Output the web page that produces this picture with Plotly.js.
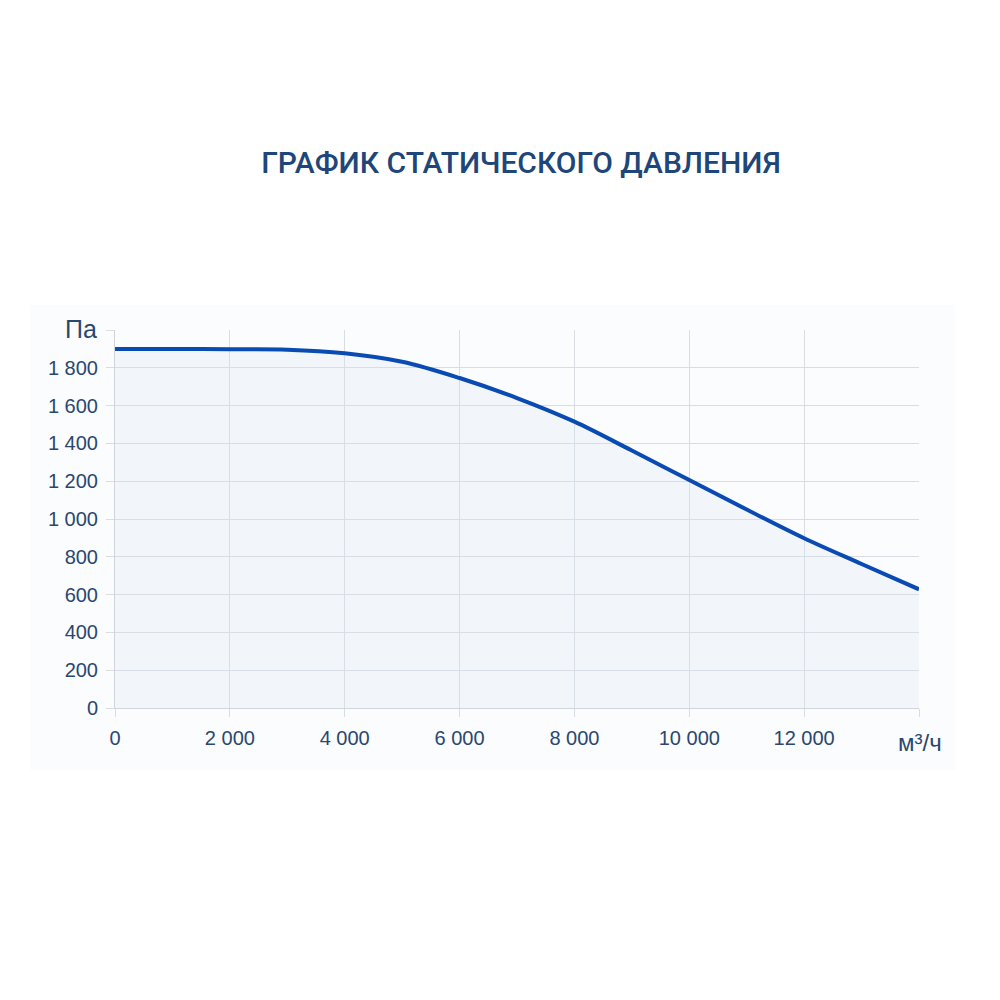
<!DOCTYPE html>
<html>
<head>
<meta charset="utf-8">
<script src="https://cdn.plot.ly/plotly-3.0.1.min.js"></script>
<style>
  html, body { margin: 0; padding: 0; background: #ffffff; }
  #chart { width: 1000px; height: 1000px; }
</style>
</head>
<body>
<div id="chart"></div>
<script>
// Data
var flow = [0, 1000, 2000, 3000, 4000, 5000, 6000, 7000, 8000, 9000, 10000, 11000, 12000, 13000, 14000];
var pressure = [1900, 1900, 1898, 1896, 1877, 1832, 1746, 1640, 1515, 1362, 1206, 1050, 898, 762, 628];

var y_ticks = [0, 200, 400, 600, 800, 1000, 1200, 1400, 1600, 1800, 2000];
var y_labels = ['0', '200', '400', '600', '800', '1 000', '1 200', '1 400', '1 600', '1 800', ''];
var x_ticks = [0, 2000, 4000, 6000, 8000, 10000, 12000, 14000];
var x_labels = ['0', '2 000', '4 000', '6 000', '8 000', '10 000', '12 000', ''];

var title_text = 'ГРАФИК СТАТИЧЕСКОГО ДАВЛЕНИЯ';
var y_unit = 'Па';
var x_unit = 'м³/ч';

// Colors
var line_blue = '#0a4ab3';
var text_navy = '#2a4770';
var grid_grey = '#d9dce2';

var trace1 = {
  x: flow,
  y: pressure,
  type: 'scatter',
  mode: 'lines',
  line: {color: line_blue, width: 4, shape: 'spline', smoothing: 1},
  fill: 'tozeroy',
  fillcolor: 'rgba(214, 226, 242, 0.25)',
  hoverinfo: 'x+y',
};

var layout = {
  width: 1000,
  height: 1000,
  margin: {l: 115, r: 81, t: 330, b: 292},
  paper_bgcolor: '#ffffff',
  plot_bgcolor: '#fdfeff',
  showlegend: false,
  font: {family: 'Liberation Sans, Arial, sans-serif', color: text_navy, size: 21},

  title: {
    text: title_text,
    font: {family: 'Roboto, sans-serif', size: 30, color: '#1e4679', weight: 500},
    x: 0.505,
    xanchor: 'center',
    xref: 'paper',
    y: 0.838,
    yanchor: 'middle',
  },

  shapes: [{
    type: 'rect',
    xref: 'paper', yref: 'paper',
    x0: -0.106, x1: 1.045, y0: -0.164, y1: 1.066,
    fillcolor: '#fbfcfd',
    line: {width: 0},
    layer: 'below',
  }],

  annotations: [
    {
      text: y_unit, xref: 'paper', yref: 'y', x: 0, y: 2000,
      xanchor: 'right', yanchor: 'middle', xshift: -16, yshift: 1,
      showarrow: false, font: {size: 25, color: text_navy},
    },
    {
      text: x_unit, xref: 'x', yref: 'paper', x: 14000, y: 0,
      xanchor: 'center', yanchor: 'top', xshift: 1, yshift: -19,
      showarrow: false, font: {size: 24, color: text_navy},
    },
  ],

  xaxis: {
    range: [0, 14000],
    fixedrange: true,
    tickmode: 'array',
    tickvals: x_ticks,
    ticktext: x_labels,
    ticks: 'outside',
    ticklen: 8,
    tickcolor: grid_grey,
    tickfont: {size: 20, color: text_navy},
    ticklabelstandoff: 4,
    showgrid: true,
    gridcolor: grid_grey,
    gridwidth: 1,
    zeroline: false,
    showline: true,
    linecolor: '#cfd3da',
    linewidth: 1,
  },
  yaxis: {
    range: [0, 2000],
    fixedrange: true,
    tickmode: 'array',
    tickvals: y_ticks,
    ticktext: y_labels,
    ticks: 'outside',
    ticklen: 8,
    tickcolor: grid_grey,
    tickfont: {size: 20, color: text_navy},
    ticklabelstandoff: 4,
    showgrid: true,
    gridcolor: grid_grey,
    gridwidth: 1,
    zeroline: false,
    showline: true,
    linecolor: '#cfd3da',
    linewidth: 1,
  },
};

var config = {
  responsive: false,
  displayModeBar: false,
};

Plotly.newPlot('chart', [trace1], layout, config);
</script>
</body>
</html>
